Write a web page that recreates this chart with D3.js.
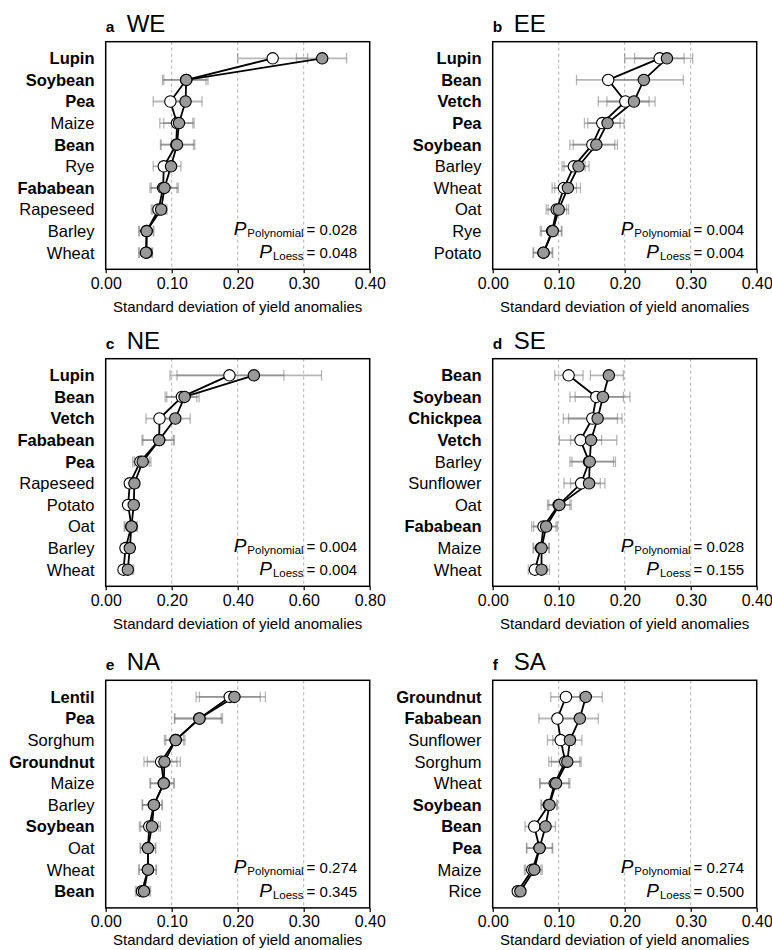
<!DOCTYPE html>
<html><head><meta charset="utf-8">
<script src="https://cdn.jsdelivr.net/npm/d3@7"></script>
<style>html,body{margin:0;padding:0;background:#fff}svg{display:block}</style>
</head><body>
<script>
// ---------- data ----------
const regionLetters = ["a","b","c","d","e","f"];
const regionNames = ["WE","EE","NE","SE","NA","SA"];
const xMaxes = [0.4,0.4,0.8,0.4,0.4,0.4];
const pPolynomial = ["0.028","0.004","0.004","0.028","0.274","0.274"];
const pLoess = ["0.048","0.004","0.004","0.155","0.345","0.500"];

const weCrops = ["Lupin","Soybean","Pea","Maize","Bean","Rye","Fababean","Rapeseed","Barley","Wheat"];
const weBold = [1,1,1,0,1,0,1,0,0,0];
const weOpen = [0.253,0.122,0.098,0.108,0.107,0.088,0.087,0.080,0.062,0.062];
const weFilled = [0.328,0.122,0.121,0.111,0.108,0.099,0.089,0.084,0.062,0.061];
const weOpenLo = [0.200,0.086,0.072,0.082,0.083,0.072,0.067,0.069,0.050,0.050];
const weOpenHi = [0.306,0.152,0.124,0.132,0.133,0.104,0.108,0.091,0.072,0.070];
const weFilledLo = [0.289,0.088,0.097,0.088,0.084,0.082,0.069,0.071,0.051,0.051];
const weFilledHi = [0.365,0.155,0.146,0.134,0.135,0.114,0.110,0.093,0.073,0.071];

const eeCrops = ["Lupin","Bean","Vetch","Pea","Soybean","Barley","Wheat","Oat","Rye","Potato"];
const eeBold = [1,1,1,1,1,0,0,0,0,0];
const eeOpen = [0.253,0.175,0.201,0.166,0.151,0.123,0.108,0.097,0.090,0.077];
const eeFilled = [0.264,0.229,0.214,0.174,0.157,0.130,0.114,0.100,0.091,0.077];
const eeOpenLo = [0.200,0.127,0.160,0.139,0.117,0.105,0.090,0.081,0.072,0.061];
const eeOpenHi = [0.290,0.225,0.237,0.193,0.185,0.140,0.127,0.112,0.104,0.090];
const eeFilledLo = [0.215,0.170,0.173,0.144,0.122,0.108,0.094,0.084,0.074,0.062];
const eeFilledHi = [0.303,0.289,0.246,0.199,0.189,0.146,0.133,0.115,0.105,0.091];

const neCrops = ["Lupin","Bean","Vetch","Fababean","Pea","Rapeseed","Potato","Oat","Barley","Wheat"];
const neBold = [1,1,1,1,1,0,0,0,0,0];
const neOpen = [0.375,0.231,0.163,0.162,0.105,0.073,0.068,0.078,0.060,0.054];
const neFilled = [0.449,0.239,0.211,0.162,0.112,0.087,0.085,0.078,0.073,0.067];
const neOpenLo = [0.195,0.180,0.122,0.110,0.082,0.059,0.056,0.056,0.046,0.044];
const neOpenHi = [0.540,0.276,0.210,0.205,0.132,0.095,0.092,0.094,0.082,0.080];
const neFilledLo = [0.216,0.185,0.165,0.113,0.087,0.064,0.061,0.058,0.050,0.047];
const neFilledHi = [0.654,0.283,0.256,0.208,0.137,0.100,0.097,0.095,0.087,0.085];

const seCrops = ["Bean","Soybean","Chickpea","Vetch","Barley","Sunflower","Oat","Fababean","Maize","Wheat"];
const seBold = [1,1,1,1,0,0,0,1,0,0];
const seOpen = [0.115,0.157,0.151,0.133,0.146,0.134,0.100,0.077,0.073,0.064];
const seFilled = [0.176,0.167,0.159,0.149,0.147,0.146,0.101,0.081,0.074,0.074];
const seOpenLo = [0.094,0.117,0.107,0.101,0.117,0.108,0.083,0.059,0.061,0.054];
const seOpenHi = [0.137,0.198,0.189,0.165,0.183,0.163,0.117,0.096,0.085,0.082];
const seFilledLo = [0.148,0.125,0.115,0.118,0.120,0.118,0.085,0.062,0.062,0.058];
const seFilledHi = [0.198,0.208,0.196,0.188,0.186,0.170,0.119,0.098,0.086,0.086];

const naCrops = ["Lentil","Pea","Sorghum","Groundnut","Maize","Barley","Soybean","Oat","Wheat","Bean"];
const naBold = [1,1,0,1,0,0,1,0,0,1];
const naOpen = [0.188,0.142,0.106,0.084,0.088,0.073,0.066,0.064,0.064,0.055];
const naFilled = [0.195,0.142,0.106,0.089,0.088,0.073,0.070,0.064,0.064,0.058];
const naOpenLo = [0.137,0.104,0.089,0.058,0.067,0.055,0.051,0.052,0.050,0.045];
const naOpenHi = [0.234,0.175,0.118,0.108,0.103,0.085,0.080,0.075,0.076,0.066];
const naFilledLo = [0.142,0.105,0.091,0.063,0.068,0.056,0.053,0.053,0.051,0.047];
const naFilledHi = [0.242,0.177,0.120,0.113,0.104,0.086,0.083,0.076,0.077,0.068];

const saCrops = ["Groundnut","Fababean","Sunflower","Sorghum","Wheat","Soybean","Bean","Pea","Maize","Rice"];
const saBold = [1,1,0,0,0,1,1,1,0,0];
const saOpen = [0.111,0.098,0.103,0.110,0.094,0.085,0.063,0.071,0.060,0.038];
const saFilled = [0.141,0.132,0.117,0.113,0.096,0.086,0.080,0.071,0.063,0.042];
const saOpenLo = [0.088,0.070,0.083,0.085,0.071,0.073,0.049,0.051,0.048,0.033];
const saOpenHi = [0.132,0.128,0.125,0.132,0.115,0.097,0.080,0.090,0.073,0.045];
const saFilledLo = [0.116,0.100,0.091,0.089,0.072,0.074,0.064,0.052,0.050,0.036];
const saFilledHi = [0.166,0.160,0.135,0.134,0.117,0.098,0.095,0.091,0.075,0.047];

const xTitle = "Standard deviation of yield anomalies";

// ---------- assemble ----------
const panels = [
  [weCrops,weBold,weOpen,weFilled,weOpenLo,weOpenHi,weFilledLo,weFilledHi],
  [eeCrops,eeBold,eeOpen,eeFilled,eeOpenLo,eeOpenHi,eeFilledLo,eeFilledHi],
  [neCrops,neBold,neOpen,neFilled,neOpenLo,neOpenHi,neFilledLo,neFilledHi],
  [seCrops,seBold,seOpen,seFilled,seOpenLo,seOpenHi,seFilledLo,seFilledHi],
  [naCrops,naBold,naOpen,naFilled,naOpenLo,naOpenHi,naFilledLo,naFilledHi],
  [saCrops,saBold,saOpen,saFilled,saOpenLo,saOpenHi,saFilledLo,saFilledHi]
].map((p,i)=>({
  letter: regionLetters[i], name: regionNames[i], xMax: xMaxes[i],
  pPoly: pPolynomial[i], pLoess: pLoess[i],
  crops: p[0], bold: p[1],
  open: p[0].map((c,j)=>({crop:c, v:p[2][j], lo:p[4][j], hi:p[5][j]})),
  filled: p[0].map((c,j)=>({crop:c, v:p[3][j], lo:p[6][j], hi:p[7][j]}))
}));

// ---------- layout ----------
const W = 772, H = 950;
const colLeft = [105.7, 492.7];
const boxW = 264;
const rowTop = [41.7, 358.7, 680.3];
const boxH = 227.6;
const FONT = "'Liberation Sans', Arial, Helvetica, sans-serif";

const svg = d3.select("body").append("svg")
  .attr("width", W).attr("height", H)
  .style("font-family", FONT);

panels.forEach((P, i) => {
  const row = Math.floor(i / 2);
  const x0 = colLeft[i % 2], y0 = rowTop[row];
  const g = svg.append("g").attr("transform", `translate(${x0},${y0})`);

  const x = d3.scaleLinear().domain([0, P.xMax]).range([0, boxW]);
  const y = d3.scalePoint().domain(P.crops).range([0, boxH]).padding(0.77);
  const step = P.xMax / 4;
  const ticks = d3.range(0, 5).map(k => k * step);

  // grid
  g.selectAll("line.grid").data(ticks.slice(1, 4)).join("line")
    .attr("x1", d => x(d)).attr("x2", d => x(d))
    .attr("y1", 0).attr("y2", boxH)
    .attr("stroke", "#b0b0b0").attr("stroke-width", 1)
    .attr("stroke-dasharray", "3,3");

  // error bars
  const eb = g.append("g").attr("stroke", "#707070").attr("stroke-opacity", 0.5).attr("stroke-width", 1.8);
  [P.open, P.filled].forEach(series => {
    series.forEach(d => {
      const cy = y(d.crop);
      eb.append("line").attr("x1", x(d.lo)).attr("x2", x(d.hi)).attr("y1", cy).attr("y2", cy);
      eb.append("line").attr("x1", x(d.lo)).attr("x2", x(d.lo)).attr("y1", cy - 5.3).attr("y2", cy + 5.3).attr("stroke-width", 1.3);
      eb.append("line").attr("x1", x(d.hi)).attr("x2", x(d.hi)).attr("y1", cy - 5.3).attr("y2", cy + 5.3).attr("stroke-width", 1.3);
    });
  });

  // lines
  const line = d3.line().x(d => x(d.v)).y(d => y(d.crop));
  [P.open, P.filled].forEach(series => {
    g.append("path").attr("d", line(series))
      .attr("fill", "none").attr("stroke", "#000").attr("stroke-width", 1.8)
      .attr("stroke-linejoin", "round");
  });

  // points
  [[P.open, "#ffffff"], [P.filled, "#999999"]].forEach(([series, fill]) => {
    g.selectAll(null).data(series).join("circle")
      .attr("cx", d => x(d.v)).attr("cy", d => y(d.crop)).attr("r", 5.7)
      .attr("fill", fill).attr("stroke", "#000").attr("stroke-width", 1.1);
  });

  // box
  g.append("rect").attr("x", 0).attr("y", 0).attr("width", boxW).attr("height", boxH)
    .attr("fill", "none").attr("stroke", "#000").attr("stroke-width", 1.5);

  // x axis
  const ax = g.append("g").attr("transform", `translate(0,${boxH})`)
    .call(d3.axisBottom(x).tickValues(ticks).tickFormat(d3.format(".2f")).tickSize(4).tickPadding(4));
  ax.select(".domain").remove();
  ax.selectAll(".tick line").attr("stroke", "#000").attr("stroke-width", 1.2);
  ax.selectAll(".tick text").attr("font-size", 16).attr("font-family", FONT).attr("fill", "#000");

  // x title (bottom row nudged up so it stays inside the page)
  g.append("text").attr("x", boxW / 2).attr("y", boxH + (row === 2 ? 37.5 : 42.5))
    .attr("text-anchor", "middle").attr("font-size", 15).attr("fill", "#000").text(xTitle);

  // y labels
  g.selectAll("text.ylab").data(P.crops).join("text")
    .attr("x", -11.2).attr("y", d => y(d)).attr("dy", "0.36em")
    .attr("text-anchor", "end").attr("font-size", 16.5).attr("fill", "#000")
    .attr("font-weight", (d, j) => P.bold[j] ? "bold" : "normal")
    .text(d => d);

  // title
  g.append("text").attr("x", 0).attr("y", -10).attr("font-size", 15.5)
    .attr("font-weight", "bold").text(P.letter);
  g.append("text").attr("x", 21).attr("y", -10).attr("font-size", 24).text(P.name);

  // p-values
  const pv = [[P.pPoly, "Polynomial", boxH - 34.5], [P.pLoess, "Loess", boxH - 11]];
  pv.forEach(([val, sub, by]) => {
    const t = g.append("text").attr("x", boxW - 12.6).attr("y", by)
      .attr("text-anchor", "end").attr("fill", "#000");
    t.append("tspan").attr("font-size", 19).attr("font-style", "italic").text("P");
    t.append("tspan").attr("font-size", 11.5).attr("dy", 2).attr("dx", 1).text(sub);
    t.append("tspan").attr("font-size", 15).attr("dy", -2).attr("dx", 3).text("= " + val);
  });
});
</script>
</body></html>
